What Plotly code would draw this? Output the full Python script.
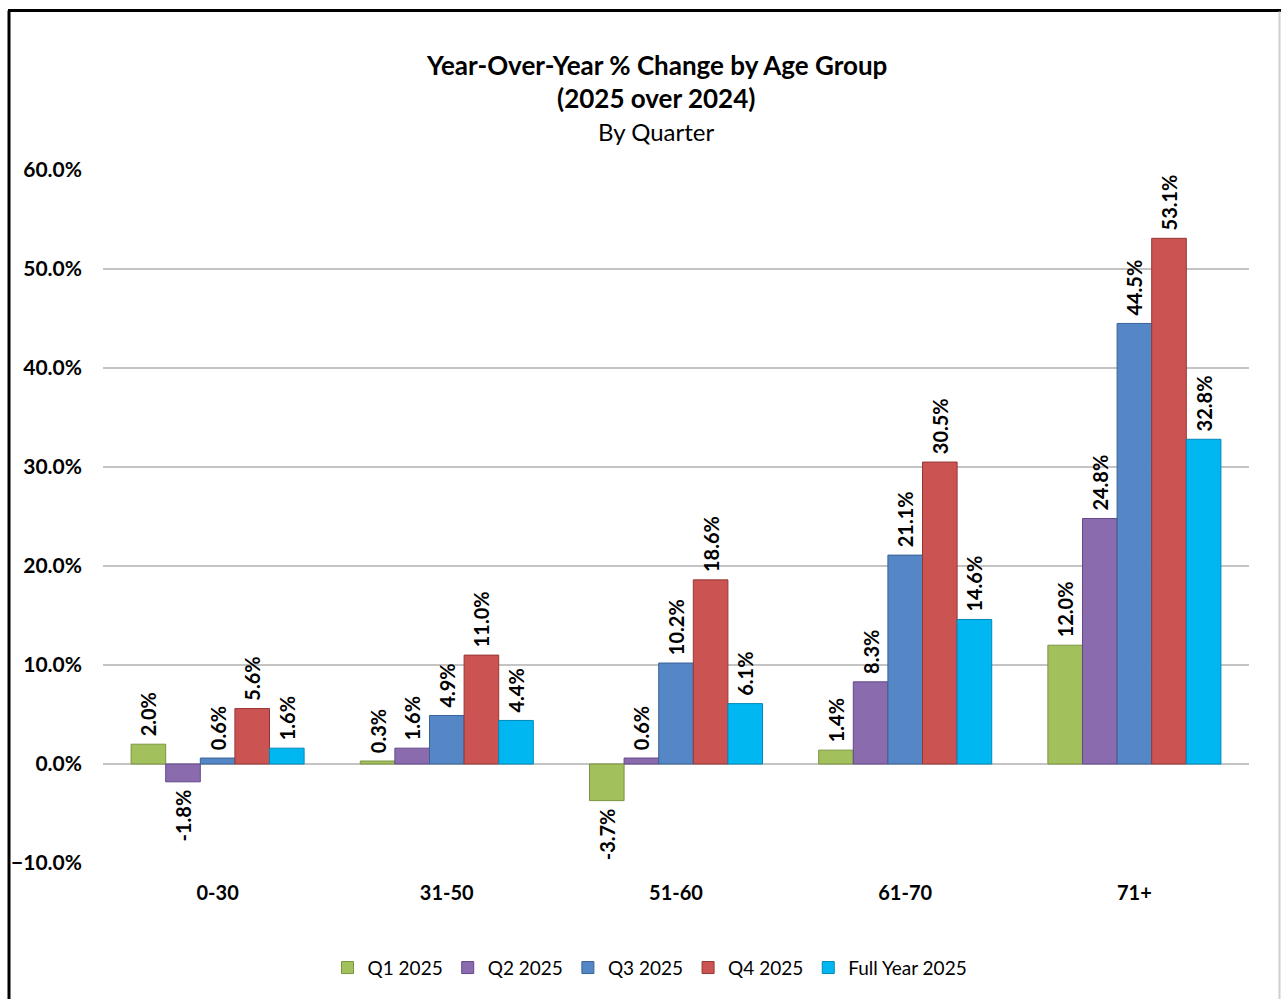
import plotly.graph_objects as go

# Age groups and year-over-year % change by period
age_groups = ["0-30", "31-50", "51-60", "61-70", "71+"]
q1_2025 = [2.0, 0.3, -3.7, 1.4, 12.0]
q2_2025 = [-1.8, 1.6, 0.6, 8.3, 24.8]
q3_2025 = [0.6, 4.9, 10.2, 21.1, 44.5]
q4_2025 = [5.6, 11.0, 18.6, 30.5, 53.1]
full_year_2025 = [1.6, 4.4, 6.1, 14.6, 32.8]

series_names = ["Q1 2025", "Q2 2025", "Q3 2025", "Q4 2025", "Full Year 2025"]
series_values = [q1_2025, q2_2025, q3_2025, q4_2025, full_year_2025]
fill_colors = ["#A2C05C", "#8A6CAE", "#5587C6", "#CB5452", "#00B7F1"]
edge_colors = ["#7A9440", "#64488A", "#3A6296", "#963634", "#0088B8"]

title_lines = ["<b>Year-Over-Year % Change by Age Group</b>",
               "<b>(2025 over 2024)</b>",
               "By Quarter"]

FONT = "Lato"
W, H = 1281, 999
PLOT_L, PLOT_R, PLOT_T, PLOT_B = 103, 1249, 170, 865


def px_x(x):
    return (x - PLOT_L) / (PLOT_R - PLOT_L)


def px_y(y):
    return (PLOT_B - y) / (PLOT_B - PLOT_T)


def label(v):
    pad = "\u00a0"
    s = f"{v:.1f}%"
    return pad + s if v >= 0 else s + pad


fig = go.Figure()
for name, vals, fc, ec in zip(series_names, series_values, fill_colors, edge_colors):
    fig.add_trace(go.Bar(
        name=name,
        x=age_groups,
        y=vals,
        text=[label(v) for v in vals],
        textposition="outside",
        textangle=-90,
        constraintext="none",
        cliponaxis=False,
        textfont=dict(family=FONT, size=20, color="#000000", weight="bold"),
        marker=dict(color=fc, line=dict(color=ec, width=1)),
    ))

# Title block (three centred lines)
for text, y_px, size in zip(title_lines, [65, 98, 131], [26, 26, 24]):
    fig.add_annotation(
        text=text, xref="paper", yref="paper",
        x=px_x(656), y=px_y(y_px), xanchor="center", yanchor="middle",
        showarrow=False, font=dict(family=FONT, size=size, color="#000000"),
    )

# Outer chart frame
fig.add_shape(type="line", xref="paper", yref="paper",
              x0=px_x(9), x1=px_x(9), y0=px_y(10), y1=px_y(1005),
              line=dict(color="#000000", width=3))
fig.add_shape(type="line", xref="paper", yref="paper",
              x0=px_x(8), x1=px_x(1285), y0=px_y(10), y1=px_y(10),
              line=dict(color="#000000", width=3))
fig.add_shape(type="line", xref="paper", yref="paper",
              x0=px_x(1279.5), x1=px_x(1279.5), y0=px_y(11), y1=px_y(1005),
              line=dict(color="#D0D0D0", width=2))

fig.update_layout(
    width=W, height=H,
    margin=dict(l=PLOT_L, r=W - PLOT_R, t=PLOT_T, b=H - PLOT_B, pad=0),
    paper_bgcolor="#FFFFFF",
    plot_bgcolor="#FFFFFF",
    barmode="group",
    bargap=0.245,
    bargroupgap=0,
    font=dict(family=FONT, color="#000000"),
    legend=dict(
        orientation="h",
        x=px_x(650), xanchor="center",
        y=px_y(970), yanchor="middle",
        font=dict(family=FONT, size=19, color="#000000"),
        traceorder="normal",
    ),
    showlegend=True,
)

fig.update_yaxes(
    range=[-10, 60], dtick=10, tickformat=".1f", ticksuffix="%",
    showgrid=True, gridcolor="#C4C4C4", gridwidth=2,
    zeroline=True, zerolinecolor="#C4C4C4", zerolinewidth=2,
    showline=False, ticks="", ticklabelstandoff=20,
    tickfont=dict(family=FONT, size=21, color="#000000", weight="bold"),
)
fig.update_xaxes(
    showgrid=False, showline=False, ticks="", ticklabelstandoff=16,
    tickfont=dict(family=FONT, size=20, color="#000000", weight="bold"),
)

fig.write_html("out.html")
